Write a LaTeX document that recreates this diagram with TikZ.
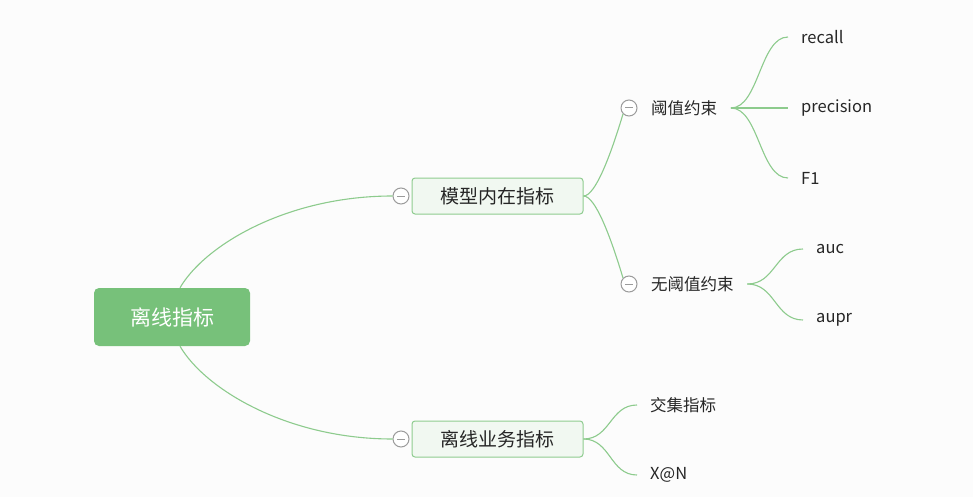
\documentclass[tikz,border=0pt]{standalone}
\usepackage{fontspec}
\setmainfont{Noto Sans CJK SC}
\usetikzlibrary{positioning,calc}
\definecolor{MapGreen}{HTML}{77C17A}
\definecolor{MapLine}{HTML}{8DCB8D}
\definecolor{MapPale}{HTML}{F1F8F1}
\definecolor{MapEdge}{HTML}{8FCC90}
\definecolor{MapGray}{HTML}{9B9B9B}
\definecolor{MapInk}{HTML}{262626}
\definecolor{MapBack}{HTML}{FCFCFC}
\tikzset{
  branch/.style={draw=MapLine, line width=1.1pt},
  rootbox/.style={rounded corners=5pt, fill=MapGreen, text=white, minimum width=156pt,
                  minimum height=58pt, font=\fontsize{21}{25}\selectfont},
  topic/.style={rounded corners=3pt, draw=MapEdge, fill=MapPale, line width=1pt,
                minimum width=171pt, minimum height=36pt, text=MapInk,
                font=\fontsize{19}{23}\selectfont},
  sub/.style={inner xsep=13.5pt, inner ysep=4pt, text=MapInk, font=\fontsize{16.5}{20}\selectfont},
  leaf/.style={anchor=west, inner xsep=13pt, inner ysep=4pt, text=MapInk,
               font=\fontsize{16.5}{20}\selectfont},
  fold/.style={circle, draw=MapGray, fill=white, line width=1pt, minimum size=16pt, inner sep=0pt,
               path picture={\draw[MapGray, line width=1pt]
                 ($(path picture bounding box.west)+(4pt,0)$) -- ($(path picture bounding box.east)-(4pt,0)$);}},
}
\begin{document}
\begin{tikzpicture}[x=1pt, y=-1pt]
  \fill[MapBack] (0,0) rectangle (973,497);
  \useasboundingbox (0,0) rectangle (973,497);
  % main topics
  \node[rootbox] (root) at (172,317) {离线指标};
  \node[topic] (model) at (497.5,196) {模型内在指标};
  \node[fold, left=2pt of model] (fmodel) {};
  \node[topic] (biz) at (497.5,439) {离线业务指标};
  \node[fold, left=2pt of biz] (fbiz) {};
  % second level
  \node[fold] (fthr) at (629,108) {};
  \node[sub, right=0pt of fthr] (thr) {阈值约束};
  \node[fold] (fnothr) at (629,284) {};
  \node[sub, right=0pt of fnothr] (nothr) {无阈值约束};
  % leaves
  \node[leaf] (recall) at (788,37) {recall};
  \node[leaf] (prec) at (788,108) {precision};
  \node[leaf] (fone) at (788,178) {F1};
  \node[leaf] (auc) at (803,249) {auc};
  \node[leaf] (aupr) at (803,320) {aupr};
  \node[leaf] (inter) at (637,405) {交集指标};
  \node[leaf] (xatn) at (637,475) {X@N};
  % connectors
  \draw[branch] ([xshift=8pt]root.north) .. controls +(25,-43) and +(-105,0) .. (fmodel.west);
  \draw[branch] ([xshift=8pt]root.south) .. controls +(25,43) and +(-105,0) .. (fbiz.west);
  \draw[branch] (model.east) .. controls +(12,0) and +(-12,40) .. (fthr.south west);
  \draw[branch] (model.east) .. controls +(12,0) and +(-12,-40) .. (fnothr.north west);
  \foreach \leafname in {recall,prec,fone}
    \draw[branch] (thr.east) .. controls +(28,0) and +(-28,0) .. (\leafname.west);
  \foreach \leafname in {auc,aupr}
    \draw[branch] (nothr.east) .. controls +(28,0) and +(-28,0) .. (\leafname.west);
  \foreach \leafname in {inter,xatn}
    \draw[branch] (biz.east) .. controls +(27,0) and +(-27,0) .. (\leafname.west);
\end{tikzpicture}
\end{document}
